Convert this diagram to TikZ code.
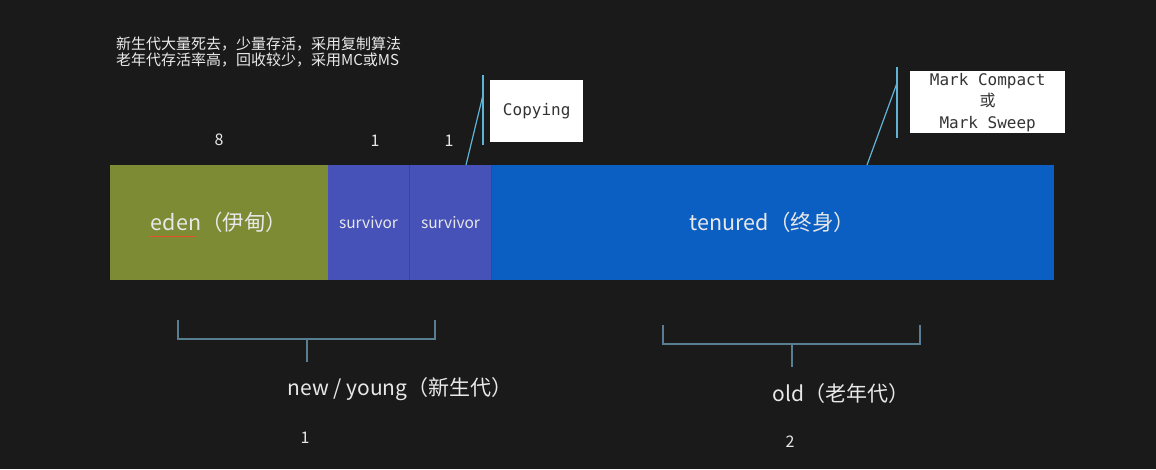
\documentclass[tikz,border=0pt]{standalone}
\usepackage{fontspec}
\setmainfont{Noto Sans CJK SC}
\newfontfamily\cjk{Noto Sans CJK SC}
\newfontfamily\monof{DejaVu Sans Mono}
\definecolor{board}{HTML}{1A1A1A}
\definecolor{olive}{HTML}{7E8B35}
\definecolor{surv}{HTML}{4652B8}
\definecolor{ten}{HTML}{0B5EC2}
\definecolor{lineblue}{HTML}{5FB4D6}
\definecolor{brace}{HTML}{587E92}
\definecolor{txt}{HTML}{E8E8E8}
\definecolor{spell}{HTML}{E8502A}
\tikzset{
  region/.style={rectangle, anchor=north west, inner sep=0pt, outer sep=0pt, minimum height=115pt, text=txt, font=\cjk\fontsize{21.5}{24}\selectfont},
  callout/.style={rectangle, fill=white, anchor=north west, inner sep=0pt, font=\monof\fontsize{16}{18}\selectfont, text=black!80, align=center},
  num/.style={text=txt, font=\cjk\fontsize{16}{18}\selectfont},
  label/.style={text=txt, font=\cjk\fontsize{21}{24}\selectfont},
  pointer/.style={draw=lineblue, line width=1.2pt},
  bracepath/.style={draw=brace, line width=1.6pt},
}
\begin{document}
\begin{tikzpicture}[x=1pt,y=-1pt]
\fill[board] (0,0) rectangle (1156,469);
\useasboundingbox (0,0) rectangle (1156,469);

% note text top-left
\node[anchor=north west, text=txt!90, font=\cjk\fontsize{15}{16}\selectfont, align=left, inner sep=0pt] (note) at (116,37)
  {新生代大量死去，少量存活，采用复制算法\\老年代存活率高，回收较少，采用MC或MS};

% regions
\node[region, fill=olive, minimum width=218pt] (eden) at (110,165) {};
\node[label, font=\cjk\fontsize{21.5}{24}\selectfont] at (eden.center) (edentxt) {eden（伊甸）};
\coordinate (ulstart) at ([xshift=3pt,yshift=-14pt]edentxt.west);
\draw[spell, line width=1.6pt] (ulstart) -- ++(46,0);
\node[region, fill=surv, minimum width=81pt, font=\cjk\fontsize{15.5}{18}\selectfont] (s1) at (328,165) {survivor};
\node[region, fill=surv, minimum width=81pt, font=\cjk\fontsize{15.5}{18}\selectfont] (s2) at (410,165) {survivor};
\node[region, fill=ten, minimum width=563pt] (ten) at (491,165) {tenured（终身）};
\draw[black!70, line width=1pt] (s1.north east) -- (s1.south east);
\draw[black!70, line width=1pt] (s2.north east) -- (s2.south east);

% ratio numbers
\node[num] (n8) at (219,140) {8};
\node[num] (n1a) at (375,141) {1};
\node[num] (n1b) at (449,141) {1};

% callouts
\node[callout, minimum width=93pt, minimum height=62pt] (copy) at (490,80) {Copying};
\node[callout, minimum width=155pt, minimum height=62pt, font=\monof\fontsize{16}{21.5}\selectfont] (mark) at (910,71)
  {Mark Compact\\{\cjk 或}\\Mark Sweep};

\coordinate (c1top) at (483,75);
\coordinate (c1bot) at (483,145);
\coordinate (c1mid) at (483,95);
\coordinate (c1foot) at (466,165);
\draw[pointer] (c1top) -- (c1bot);
\draw[pointer] (c1foot) -- (c1mid);

\coordinate (c2top) at (897,67);
\coordinate (c2bot) at (897,138);
\coordinate (c2mid) at (897,83);
\coordinate (c2foot) at (867,165);
\draw[pointer] (c2top) -- (c2bot);
\draw[pointer] (c2foot) -- (c2mid);

% braces
\draw[bracepath] (178,320) -- (178,339) -- (435,339) -- (435,320);
\draw[bracepath] (307,339) -- (307,362);
\draw[bracepath] (663,325) -- (663,344) -- (920,344) -- (920,325);
\draw[bracepath] (792,344) -- (792,367);

\node[label] (young) at (400,389) {new / young（新生代）};
\node[label] (old) at (841,394) {old（老年代）};
\node[num] (b1) at (305,438) {1};
\node[num] (b2) at (790,442) {2};
\end{tikzpicture}
\end{document}
